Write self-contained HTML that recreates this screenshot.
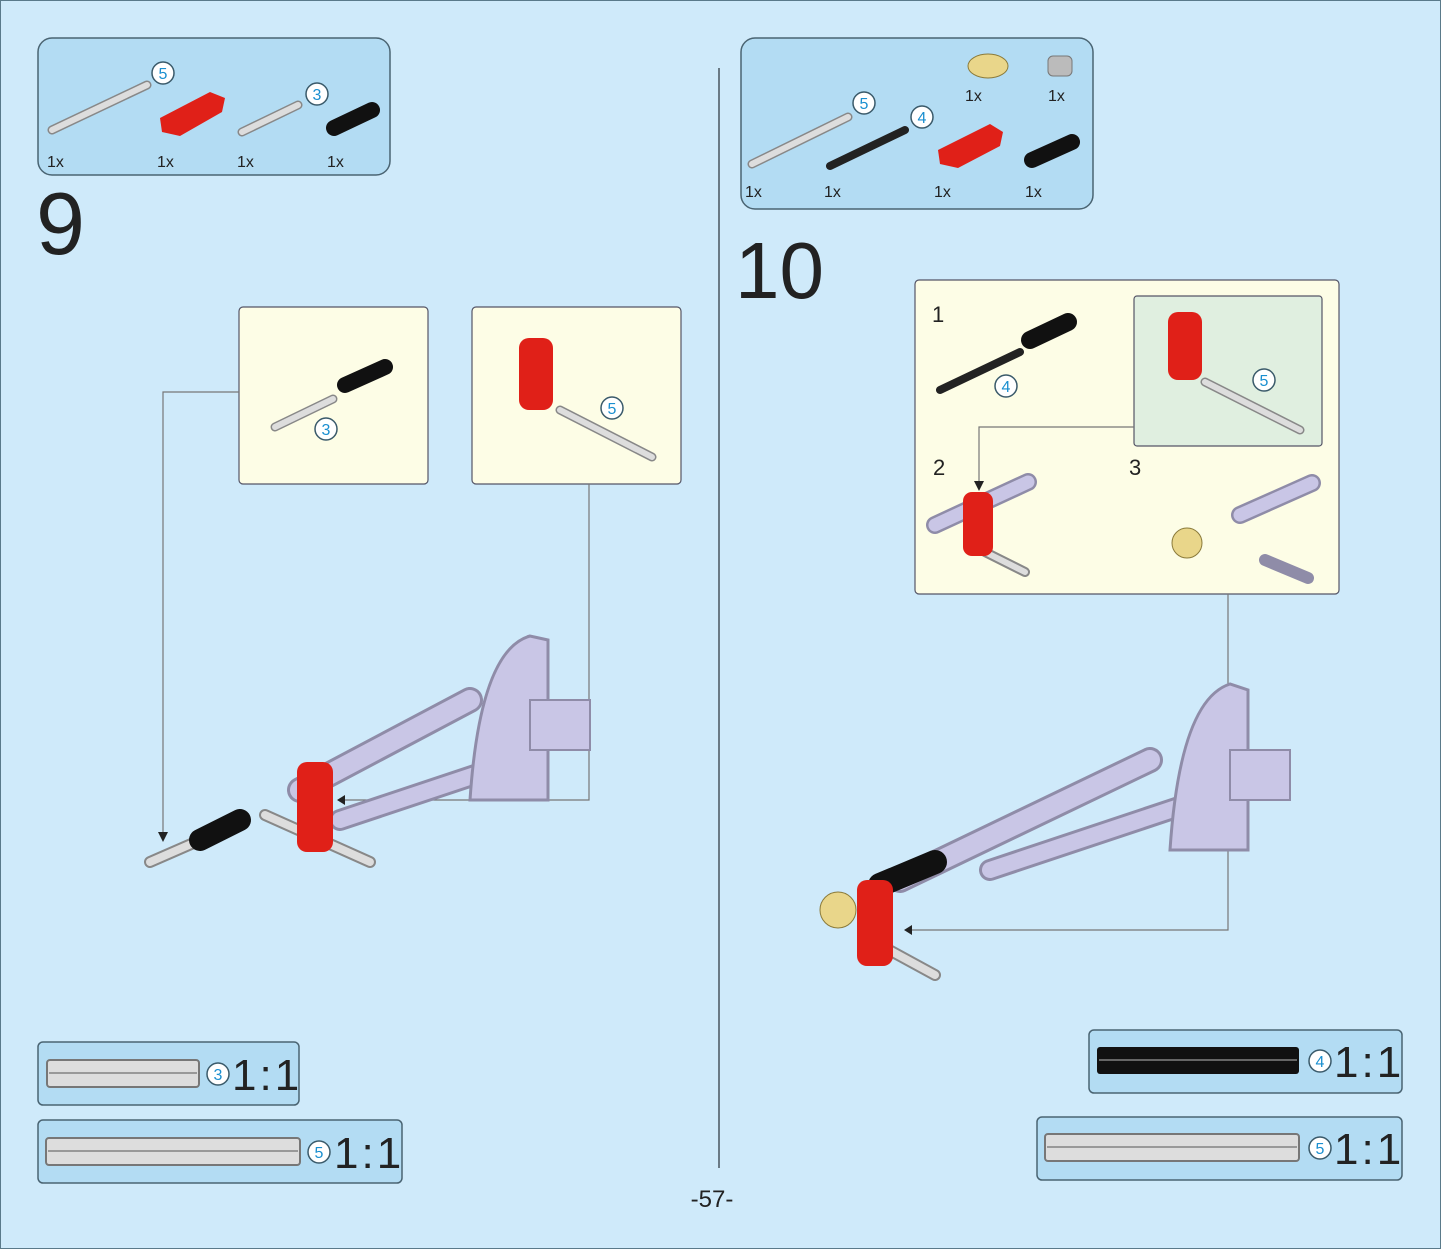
<!DOCTYPE html>
<html><head><meta charset="utf-8"><style>
html,body{margin:0;padding:0;background:#cfeafa;}
svg{display:block}
text{font-family:"Liberation Sans",sans-serif}
</style></head><body>
<svg width="1441" height="1249" viewBox="0 0 1441 1249" xmlns="http://www.w3.org/2000/svg">
<defs>
<g id="badge5"><circle r="11" fill="#fff" stroke="#3a5a6a" stroke-width="1.5"/><text y="6" text-anchor="middle" font-size="16" fill="#1a8fd0">5</text></g>
<g id="badge3"><circle r="11" fill="#fff" stroke="#3a5a6a" stroke-width="1.5"/><text y="6" text-anchor="middle" font-size="16" fill="#1a8fd0">3</text></g>
<g id="badge4"><circle r="11" fill="#fff" stroke="#3a5a6a" stroke-width="1.5"/><text y="6" text-anchor="middle" font-size="16" fill="#1a8fd0">4</text></g>
</defs>
<rect width="1441" height="1249" fill="#cfeafa"/>
<rect x="0.5" y="0.5" width="1440" height="1248" fill="none" stroke="#5a7a8a"/>
<line x1="719" y1="68" x2="719" y2="1168" stroke="#6a7a85" stroke-width="2"/>

<!-- Step 9 parts box -->
<rect x="38" y="38" width="352" height="137" rx="14" fill="#b3dcf3" stroke="#4a6472" stroke-width="1.5"/>
<g stroke-linecap="round">
<line x1="52" y1="130" x2="147" y2="85" stroke="#888" stroke-width="9"/><line x1="52" y1="130" x2="147" y2="85" stroke="#ddd" stroke-width="6"/>
<line x1="242" y1="132" x2="298" y2="105" stroke="#888" stroke-width="9"/><line x1="242" y1="132" x2="298" y2="105" stroke="#ddd" stroke-width="6"/>
<line x1="334" y1="128" x2="372" y2="110" stroke="#111" stroke-width="16"/>
</g>
<path d="M160 118 L210 92 L225 98 L222 112 L180 136 L162 132Z" fill="#e02018"/>
<use href="#badge5" x="163" y="73"/><use href="#badge3" x="317" y="94"/>
<g font-size="16" fill="#222"><text x="47" y="167">1x</text><text x="157" y="167">1x</text><text x="237" y="167">1x</text><text x="327" y="167">1x</text></g>
<text x="36" y="254" font-size="88" fill="#222">9</text>

<!-- Step 9 callouts -->
<rect x="239" y="307" width="189" height="177" rx="4" fill="#fdfde6" stroke="#556" stroke-width="1.2"/>
<g stroke-linecap="round"><line x1="275" y1="427" x2="333" y2="399" stroke="#888" stroke-width="9"/><line x1="275" y1="427" x2="333" y2="399" stroke="#ddd" stroke-width="6"/>
<line x1="345" y1="385" x2="385" y2="367" stroke="#111" stroke-width="16"/></g>
<use href="#badge3" x="326" y="429"/>
<rect x="472" y="307" width="209" height="177" rx="4" fill="#fdfde6" stroke="#556" stroke-width="1.2"/>
<g stroke-linecap="round"><line x1="560" y1="410" x2="652" y2="457" stroke="#888" stroke-width="9"/><line x1="560" y1="410" x2="652" y2="457" stroke="#ddd" stroke-width="6"/></g>
<rect x="519" y="338" width="34" height="72" rx="10" fill="#e02018"/>
<use href="#badge5" x="612" y="408"/>
<polyline points="239,392 163,392 163,840" fill="none" stroke="#777" stroke-width="1.2"/>
<polygon points="158,832 168,832 163,842" fill="#222"/>
<polyline points="589,484 589,800 345,800" fill="none" stroke="#777" stroke-width="1.2"/>
<polygon points="345,795 345,805 337,800" fill="#222"/>

<!-- Step 9 main model -->
<g stroke-linecap="round">
<line x1="300" y1="790" x2="470" y2="700" stroke="#8f8ca8" stroke-width="26"/><line x1="300" y1="790" x2="470" y2="700" stroke="#c9c6e6" stroke-width="20"/>
<line x1="340" y1="820" x2="520" y2="760" stroke="#8f8ca8" stroke-width="22"/><line x1="340" y1="820" x2="520" y2="760" stroke="#c9c6e6" stroke-width="16"/>
<line x1="150" y1="862" x2="205" y2="838" stroke="#888" stroke-width="12"/><line x1="150" y1="862" x2="205" y2="838" stroke="#ddd" stroke-width="8"/>
<line x1="200" y1="840" x2="240" y2="820" stroke="#111" stroke-width="22"/>
<line x1="265" y1="815" x2="370" y2="862" stroke="#888" stroke-width="12"/><line x1="265" y1="815" x2="370" y2="862" stroke="#ddd" stroke-width="8"/>
</g>
<path d="M470 800 Q480 650 530 636 L548 640 L548 800Z" fill="#c9c6e6" stroke="#8f8ca8" stroke-width="3"/>
<rect x="530" y="700" width="60" height="50" fill="#c9c6e6" stroke="#8f8ca8" stroke-width="2"/>
<rect x="297" y="762" width="36" height="90" rx="10" fill="#e02018"/>

<!-- Step 9 rulers -->
<rect x="38" y="1042" width="261" height="63" rx="5" fill="#b3dcf3" stroke="#4a6472" stroke-width="1.5"/>
<rect x="47" y="1060" width="152" height="27" rx="3" fill="#ddd" stroke="#777" stroke-width="2"/>
<line x1="49" y1="1073" x2="197" y2="1073" stroke="#999" stroke-width="2"/>
<use href="#badge3" x="218" y="1074"/>
<text x="232" y="1090" font-size="44" fill="#222" letter-spacing="3">1:1</text>
<rect x="38" y="1120" width="364" height="63" rx="5" fill="#b3dcf3" stroke="#4a6472" stroke-width="1.5"/>
<rect x="46" y="1138" width="254" height="27" rx="3" fill="#ddd" stroke="#777" stroke-width="2"/>
<line x1="48" y1="1151" x2="298" y2="1151" stroke="#999" stroke-width="2"/>
<use href="#badge5" x="319" y="1152"/>
<text x="334" y="1168" font-size="44" fill="#222" letter-spacing="3">1:1</text>

<!-- Step 10 parts box -->
<rect x="741" y="38" width="352" height="171" rx="14" fill="#b3dcf3" stroke="#4a6472" stroke-width="1.5"/>
<g stroke-linecap="round">
<line x1="752" y1="164" x2="848" y2="117" stroke="#888" stroke-width="9"/><line x1="752" y1="164" x2="848" y2="117" stroke="#ddd" stroke-width="6"/>
<line x1="830" y1="166" x2="905" y2="130" stroke="#222" stroke-width="8"/>
<line x1="1032" y1="160" x2="1072" y2="142" stroke="#111" stroke-width="16"/>
</g>
<path d="M938 150 L990 124 L1003 132 L1000 146 L958 168 L940 164Z" fill="#e02018"/>
<ellipse cx="988" cy="66" rx="20" ry="12" fill="#e9d68a" stroke="#8a7a3a"/>
<rect x="1048" y="56" width="24" height="20" rx="5" fill="#bbb" stroke="#777"/>
<use href="#badge5" x="864" y="103"/><use href="#badge4" x="922" y="117"/>
<g font-size="16" fill="#222"><text x="745" y="197">1x</text><text x="824" y="197">1x</text><text x="934" y="197">1x</text><text x="1025" y="197">1x</text><text x="965" y="101">1x</text><text x="1048" y="101">1x</text></g>
<text x="735" y="298" font-size="80" fill="#222">10</text>

<!-- Step 10 callout -->
<rect x="915" y="280" width="424" height="314" rx="4" fill="#fdfde6" stroke="#556" stroke-width="1.2"/>
<rect x="1134" y="296" width="188" height="150" rx="3" fill="#e0efe0" stroke="#556" stroke-width="1.2"/>
<g font-size="22" fill="#222"><text x="932" y="322">1</text><text x="933" y="475">2</text><text x="1129" y="475">3</text></g>
<g stroke-linecap="round">
<line x1="940" y1="390" x2="1020" y2="352" stroke="#222" stroke-width="8"/>
<line x1="1030" y1="340" x2="1068" y2="322" stroke="#111" stroke-width="18"/>
<line x1="1205" y1="382" x2="1300" y2="430" stroke="#888" stroke-width="9"/><line x1="1205" y1="382" x2="1300" y2="430" stroke="#ddd" stroke-width="6"/>
<line x1="935" y1="525" x2="1028" y2="482" stroke="#8f8ca8" stroke-width="18"/><line x1="935" y1="525" x2="1028" y2="482" stroke="#c9c6e6" stroke-width="13"/>
<line x1="985" y1="552" x2="1025" y2="572" stroke="#888" stroke-width="10"/><line x1="985" y1="552" x2="1025" y2="572" stroke="#ddd" stroke-width="6"/>
<line x1="1240" y1="515" x2="1312" y2="483" stroke="#8f8ca8" stroke-width="18"/><line x1="1240" y1="515" x2="1312" y2="483" stroke="#c9c6e6" stroke-width="13"/>
<line x1="1265" y1="560" x2="1308" y2="578" stroke="#8f8ca8" stroke-width="12"/>
</g>
<rect x="1168" y="312" width="34" height="68" rx="10" fill="#e02018"/>
<rect x="963" y="492" width="30" height="64" rx="9" fill="#e02018"/>
<circle cx="1187" cy="543" r="15" fill="#e9d68a" stroke="#8a7a3a"/>
<use href="#badge4" x="1006" y="386"/><use href="#badge5" x="1264" y="380"/>
<polyline points="1134,427 979,427 979,488" fill="none" stroke="#777" stroke-width="1.2"/>
<polygon points="974,481 984,481 979,491" fill="#222"/>
<polyline points="1228,594 1228,930 912,930" fill="none" stroke="#777" stroke-width="1.2"/>
<polygon points="912,925 912,935 904,930" fill="#222"/>

<!-- Step 10 main model -->
<g stroke-linecap="round">
<line x1="900" y1="880" x2="1150" y2="760" stroke="#8f8ca8" stroke-width="26"/><line x1="900" y1="880" x2="1150" y2="760" stroke="#c9c6e6" stroke-width="20"/>
<line x1="990" y1="870" x2="1200" y2="800" stroke="#8f8ca8" stroke-width="22"/><line x1="990" y1="870" x2="1200" y2="800" stroke="#c9c6e6" stroke-width="16"/>
<line x1="880" y1="885" x2="935" y2="862" stroke="#111" stroke-width="24"/>
<line x1="880" y1="945" x2="935" y2="975" stroke="#888" stroke-width="12"/><line x1="880" y1="945" x2="935" y2="975" stroke="#ddd" stroke-width="8"/>
</g>
<path d="M1170 850 Q1180 700 1230 684 L1248 690 L1248 850Z" fill="#c9c6e6" stroke="#8f8ca8" stroke-width="3"/>
<rect x="1230" y="750" width="60" height="50" fill="#c9c6e6" stroke="#8f8ca8" stroke-width="2"/>
<rect x="857" y="880" width="36" height="86" rx="10" fill="#e02018"/>
<circle cx="838" cy="910" r="18" fill="#e9d68a" stroke="#8a7a3a"/>

<!-- Step 10 rulers -->
<rect x="1089" y="1030" width="313" height="63" rx="5" fill="#b3dcf3" stroke="#4a6472" stroke-width="1.5"/>
<rect x="1097" y="1047" width="202" height="27" rx="3" fill="#111"/>
<line x1="1099" y1="1060" x2="1297" y2="1060" stroke="#666" stroke-width="2"/>
<use href="#badge4" x="1320" y="1061"/>
<text x="1334" y="1077" font-size="44" fill="#222" letter-spacing="3">1:1</text>
<rect x="1037" y="1117" width="365" height="63" rx="5" fill="#b3dcf3" stroke="#4a6472" stroke-width="1.5"/>
<rect x="1045" y="1134" width="254" height="27" rx="3" fill="#ddd" stroke="#777" stroke-width="2"/>
<line x1="1047" y1="1147" x2="1297" y2="1147" stroke="#999" stroke-width="2"/>
<use href="#badge5" x="1320" y="1148"/>
<text x="1334" y="1164" font-size="44" fill="#222" letter-spacing="3">1:1</text>

<text x="712" y="1207" font-size="24" fill="#222" text-anchor="middle">-57-</text>
</svg>
</body></html>
